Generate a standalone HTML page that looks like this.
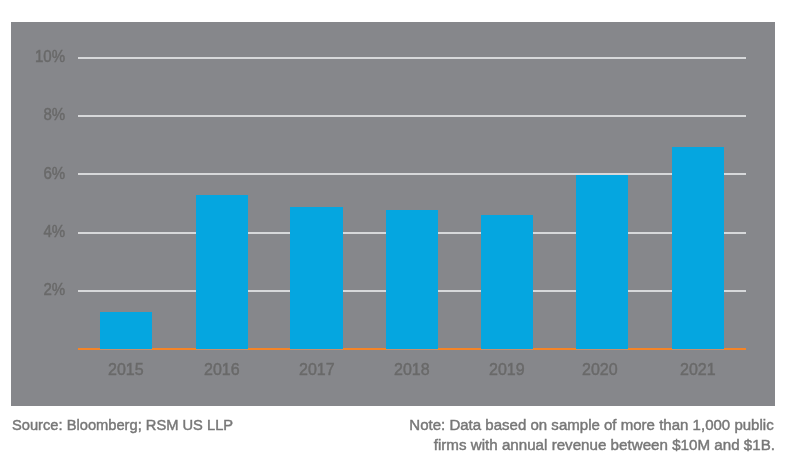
<!DOCTYPE html>
<html><head><meta charset="utf-8">
<style>
html,body{margin:0;padding:0;background:#fff;width:786px;height:472px;overflow:hidden;}
body{position:relative;font-family:"Liberation Sans",sans-serif;}
#panel{position:absolute;left:11px;top:22px;width:764px;height:384px;background:#86878b;}
.g{position:absolute;left:78px;width:668px;height:2px;background:#d7d8da;}
.o{position:absolute;left:78px;width:668px;top:348px;height:2px;background:#f58426;}
.bar{position:absolute;width:52px;background:#05a6e0;}
.bb{position:absolute;width:52px;top:349px;height:1px;background:#c88f6e;}
.yl{position:absolute;font-size:16px;color:#68696d;line-height:16px;white-space:nowrap;-webkit-text-stroke:0.45px #68696d;filter:grayscale(1);transform-origin:100% 0;}
.xl{position:absolute;font-size:16px;color:#68696d;line-height:16px;white-space:nowrap;-webkit-text-stroke:0.45px #68696d;filter:grayscale(1);}
.ft{position:absolute;font-size:15.5px;color:#76777b;line-height:20px;white-space:nowrap;-webkit-text-stroke:0.45px #76777b;filter:grayscale(1);}
</style></head><body>
<div id="panel"></div>
<div class="g" style="top:57px"></div>
<div class="g" style="top:115px"></div>
<div class="g" style="top:173px"></div>
<div class="g" style="top:232px"></div>
<div class="g" style="top:290px"></div>
<div class="o"></div>
<div class="bar" style="left:100px;top:312px;height:37px"></div>
<div class="bar" style="left:196px;top:195px;height:154px"></div>
<div class="bar" style="left:290px;top:207px;height:142px;width:53px"></div>
<div class="bar" style="left:386px;top:210px;height:139px"></div>
<div class="bar" style="left:481px;top:215px;height:134px"></div>
<div class="bar" style="left:576px;top:175px;height:174px"></div>
<div class="bar" style="left:672px;top:147px;height:202px"></div>
<div class="bb" style="left:100px"></div>
<div class="bb" style="left:196px"></div>
<div class="bb" style="left:290px;width:53px"></div>
<div class="bb" style="left:386px"></div>
<div class="bb" style="left:481px"></div>
<div class="bb" style="left:576px"></div>
<div class="bb" style="left:672px"></div>
<div class="yl" style="right:721px;top:49px;transform:scaleX(0.94)">10%</div>
<div class="yl" style="right:721px;top:107px;transform:scaleX(0.94)">8%</div>
<div class="yl" style="right:721px;top:166px;transform:scaleX(0.94)">6%</div>
<div class="yl" style="right:721px;top:224px;transform:scaleX(0.94)">4%</div>
<div class="yl" style="right:721px;top:282px;transform:scaleX(0.94)">2%</div>
<div class="xl" style="left:108px;top:362px">2015</div>
<div class="xl" style="left:204px;top:362px">2016</div>
<div class="xl" style="left:299px;top:362px">2017</div>
<div class="xl" style="left:394px;top:362px">2018</div>
<div class="xl" style="left:489px;top:362px">2019</div>
<div class="xl" style="left:582px;top:362px">2020</div>
<div class="xl" style="left:680px;top:362px">2021</div>
<div class="ft" id="src" style="left:12px;top:415px;transform:scaleX(0.947);transform-origin:0 0">Source: Bloomberg; RSM US LLP</div>
<div class="ft" id="n1" style="right:12px;top:415px;transform:scaleX(0.97);transform-origin:100% 0">Note: Data based on sample of more than 1,000 public</div>
<div class="ft" id="n2" style="right:11px;top:435px;transform:scaleX(0.978);transform-origin:100% 0">firms with annual revenue between $10M and $1B.</div>
</body></html>
